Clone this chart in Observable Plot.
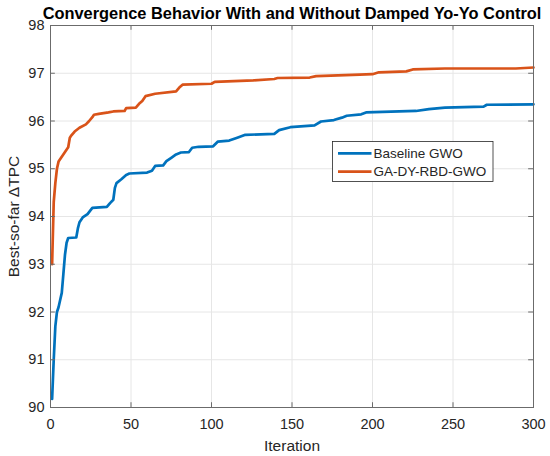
<!DOCTYPE html>
<html><head><meta charset="utf-8">
<script src="https://cdn.jsdelivr.net/npm/d3@7"></script>
<script src="https://cdn.jsdelivr.net/npm/@observablehq/plot@0.6"></script>
<style>body{margin:0;background:#fff}</style>
</head><body><div id="chart"></div>
<script>
const titleText = "Convergence Behavior With and Without Damped Yo-Yo Control";
const xLabel = "Iteration";
const yLabel = "Best-so-far \u0394TPC";
const seriesNames = ["Baseline GWO", "GA-DY-RBD-GWO"];
const seriesColors = ["#0072BD", "#D95319"];
const xTicks = [0, 50, 100, 150, 200, 250, 300];
const yTicks = [90, 91, 92, 93, 94, 95, 96, 97, 98];

const baseIter = [1, 2, 3, 4, 5, 6, 7, 8, 9, 10, 11, 16, 17, 18, 20, 23, 26, 35, 37, 39, 40, 41, 44, 47, 49, 60, 63, 65, 70, 72, 75, 78, 81, 86, 88, 92, 101, 104, 111, 116, 121, 139, 142, 149, 164, 168, 176, 181, 184, 193, 196, 227, 235, 245, 269, 271, 300];
const baseVal  = [90.18, 91.0, 91.7, 92.0, 92.1, 92.25, 92.4, 92.8, 93.2, 93.45, 93.55, 93.56, 93.75, 93.88, 93.98, 94.05, 94.18, 94.2, 94.28, 94.35, 94.6, 94.7, 94.78, 94.87, 94.9, 94.92, 94.96, 95.06, 95.07, 95.16, 95.23, 95.3, 95.34, 95.35, 95.44, 95.46, 95.47, 95.57, 95.59, 95.65, 95.71, 95.73, 95.81, 95.87, 95.91, 95.99, 96.02, 96.07, 96.11, 96.14, 96.18, 96.21, 96.25, 96.28, 96.3, 96.34, 96.35];

const hybIter = [1, 2, 3, 4, 5, 7, 9, 11, 12, 13, 15, 18, 22, 24, 26, 27, 30, 36, 39, 46, 47, 53, 55, 57, 59, 65, 78, 80, 82, 100, 102, 126, 139, 141, 161, 165, 192, 200, 204, 221, 225, 245, 289, 300];
const hybVal  = [93.0, 94.3, 94.7, 95.0, 95.15, 95.25, 95.35, 95.45, 95.65, 95.7, 95.78, 95.86, 95.93, 96.0, 96.08, 96.13, 96.15, 96.18, 96.2, 96.21, 96.27, 96.28, 96.36, 96.42, 96.52, 96.57, 96.62, 96.7, 96.76, 96.78, 96.82, 96.85, 96.88, 96.9, 96.91, 96.94, 96.97, 96.98, 97.02, 97.04, 97.08, 97.1, 97.1, 97.12];

const rows = [
  ...baseIter.map((x, i) => ({x, y: baseVal[i], s: seriesNames[0]})),
  ...hybIter.map((x, i) => ({x, y: hybVal[i], s: seriesNames[1]}))
];

const axisColor = "#6b6b6b";
const textColor = "#262626";
const font = "'Liberation Sans', Arial, Helvetica, sans-serif";

const plot = Plot.plot({
  width: 550, height: 456,
  marginLeft: 50, marginRight: 17, marginTop: 25, marginBottom: 49,
  style: {fontFamily: font, fontSize: "14.5px", color: textColor, background: "#fff"},
  x: {domain: [0, 300], label: null},
  y: {domain: [90, 98], label: null},
  color: {domain: seriesNames, range: seriesColors},
  marks: [
    Plot.ruleX(xTicks, {stroke: "#e6e6e6"}),
    Plot.ruleY(yTicks, {stroke: "#e6e6e6"}),
    Plot.line(rows, {x: "x", y: "y", z: "s", stroke: "s", strokeWidth: 2.7}),
    Plot.ruleX(xTicks, {y1: 90, y2: 90.1, stroke: axisColor}),
    Plot.ruleX(xTicks, {y1: 98, y2: 97.9, stroke: axisColor}),
    Plot.ruleY(yTicks, {x1: 0, x2: 3, stroke: axisColor}),
    Plot.ruleY(yTicks, {x1: 300, x2: 297, stroke: axisColor}),
    Plot.frame({stroke: axisColor}),
    Plot.axisX({ticks: xTicks, tickSize: 0, tickPadding: 11, label: null, fill: textColor}),
    Plot.axisY({ticks: yTicks, tickSize: 0, tickPadding: 6, label: null, fill: textColor}),
    Plot.text([titleText], {frameAnchor: "top", dy: -12, textAnchor: "middle", lineAnchor: "middle", fontWeight: "bold", fontSize: 16.4, fill: "#000"}),
    Plot.text([xLabel], {frameAnchor: "bottom", dy: 39, textAnchor: "middle", lineAnchor: "middle", fontSize: 15.5, fill: textColor}),
    Plot.text([yLabel], {frameAnchor: "left", dx: -36.5, textAnchor: "middle", lineAnchor: "middle", rotate: -90, fontSize: 15.5, fill: textColor})
  ]
});

// legend
const svg = d3.select(plot);
const lg = svg.append("g").attr("font-family", font).attr("font-size", "13.5px").attr("text-anchor", "start");
lg.append("rect").attr("x", 332.5).attr("y", 141.5).attr("width", 160.5).attr("height", 40)
  .attr("fill", "#fff").attr("stroke", "#262626").attr("stroke-width", 0.8);
seriesNames.forEach((name, i) => {
  const cy = 153.3 + i * 18.4;
  lg.append("line").attr("x1", 338).attr("x2", 371.5).attr("y1", cy).attr("y2", cy)
    .attr("stroke", seriesColors[i]).attr("stroke-width", 2.7);
  lg.append("text").attr("x", 373.5).attr("y", cy).attr("dy", "0.35em")
    .attr("fill", textColor).text(name);
});

document.getElementById("chart").appendChild(plot);
</script>
</body></html>
